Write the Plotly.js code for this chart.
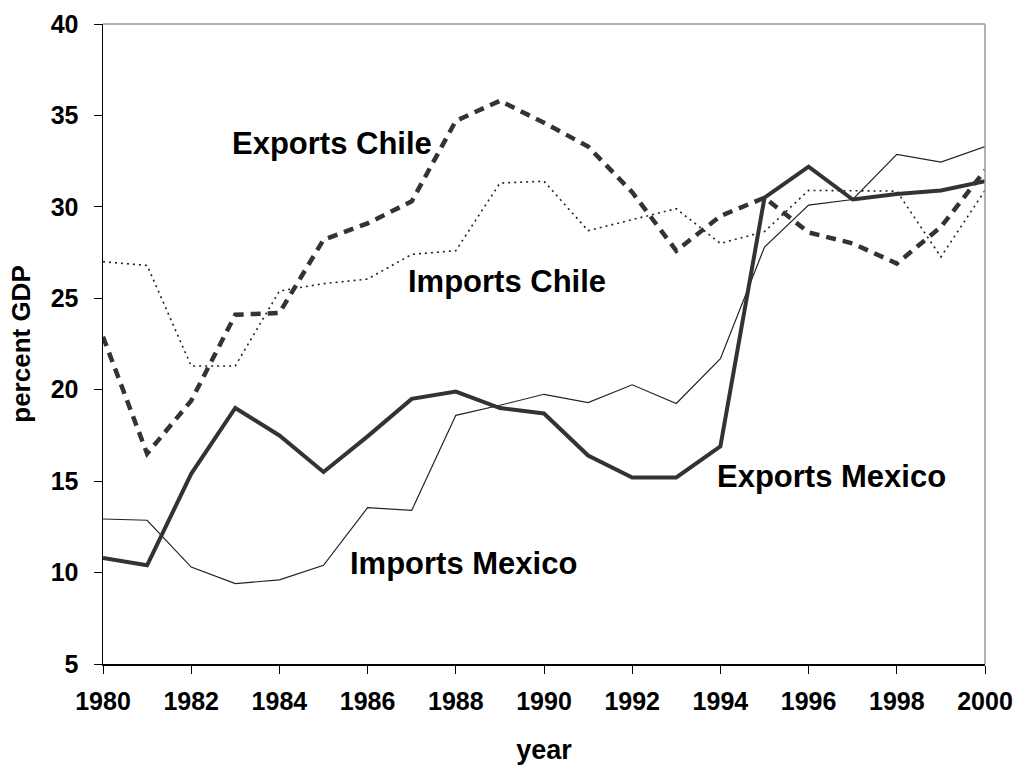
<!DOCTYPE html>
<html>
<head>
<meta charset="utf-8">
<script src="https://cdn.plot.ly/plotly-3.0.1.min.js"></script>
<style>html,body{margin:0;padding:0;background:#fff;}#chart{width:1021px;height:766px;}</style>
</head>
<body>
<div id="chart"></div>
<script>
const years = [1980,1981,1982,1983,1984,1985,1986,1987,1988,1989,1990,1991,1992,1993,1994,1995,1996,1997,1998,1999,2000];
const exportsMexico = [10.8,10.4,15.4,19.0,17.5,15.5,17.45,19.5,19.9,19.0,18.7,16.4,15.2,15.2,16.9,30.5,32.2,30.4,30.7,30.9,31.4];
const importsMexico = [12.93,12.86,10.3,9.4,9.6,10.4,13.55,13.4,18.6,19.15,19.75,19.3,20.27,19.25,21.7,27.8,30.1,30.4,32.87,32.45,33.3];
const exportsChile = [22.9,16.5,19.4,24.1,24.2,28.2,29.1,30.3,34.7,35.8,34.6,33.3,30.8,27.6,29.5,30.5,28.6,28.0,26.9,28.9,32.0];
const importsChile = [27.0,26.8,21.3,21.3,25.4,25.8,26.05,27.4,27.6,31.3,31.4,28.7,29.3,29.9,28.0,28.65,30.9,30.86,30.86,27.26,30.9];
const labels = ["Exports Chile","Imports Chile","Exports Mexico","Imports Mexico"];
const labelX = [1985.19,1989.15,1996.53,1988.18];
const labelY = [33.47,25.9,15.28,10.48];
const xTicks = [1980,1982,1984,1986,1988,1990,1992,1994,1996,1998,2000];
const yTicks = [5,10,15,20,25,30,35,40];

const FONT = "Liberation Sans, Arial, sans-serif";

const traces = [
  {x: years, y: importsMexico, mode: "lines", line: {color: "#222", width: 1.2}, name: labels[3]},
  {x: years, y: importsChile, mode: "lines", line: {color: "#222", width: 1.6, dash: "2px,4px"}, name: labels[1]},
  {x: years, y: exportsChile, mode: "lines", line: {color: "#333", width: 4.5, dash: "10px,7px"}, name: labels[0]},
  {x: years, y: exportsMexico, mode: "lines", line: {color: "#333", width: 4}, name: labels[2]}
];

const annotations = labels.map((t, i) => ({
  x: labelX[i], y: labelY[i], xref: "x", yref: "y", text: t, showarrow: false,
  xanchor: "center", yanchor: "middle",
  font: {family: FONT, size: 31, color: "#000", weight: 700}
}));

const layout = {
  width: 1021, height: 766,
  margin: {l: 103, r: 36, t: 24, b: 102},
  paper_bgcolor: "#fff", plot_bgcolor: "#fff",
  showlegend: false,
  font: {family: FONT, color: "#000"},
  xaxis: {
    range: [1980, 2000], tickvals: xTicks, ticktext: xTicks.map(String),
    showgrid: false, zeroline: false, showline: true, linecolor: "#000", linewidth: 1.5,
    ticks: "outside", ticklen: 8, tickcolor: "#000", tickwidth: 1,
    tickfont: {family: FONT, size: 25, color: "#000", weight: 700},
    ticklabelstandoff: 6,
    title: {text: "year", font: {family: FONT, size: 27, color: "#000", weight: 700}, standoff: 26}
  },
  yaxis: {
    range: [5, 40], tickvals: yTicks, ticktext: yTicks.map(String),
    showgrid: false, zeroline: false, showline: true, linecolor: "#000", linewidth: 1.5,
    ticks: "outside", ticklen: 8, tickcolor: "#000", tickwidth: 1,
    tickfont: {family: FONT, size: 25, color: "#000", weight: 700},
    ticklabelstandoff: 10,
    title: {text: "percent GDP", font: {family: FONT, size: 26, color: "#000", weight: 700}, standoff: 12}
  },
  annotations: annotations,
  shapes: [
    {type: "line", xref: "paper", yref: "paper", x0: 0, x1: 1, y0: 1, y1: 1, line: {color: "#999", width: 1.5}},
    {type: "line", xref: "paper", yref: "paper", x0: 1, x1: 1, y0: 0, y1: 1, line: {color: "#999", width: 1.5}}
  ]
};

Plotly.newPlot("chart", traces, layout, {displayModeBar: false, staticPlot: true});
</script>
</body>
</html>
